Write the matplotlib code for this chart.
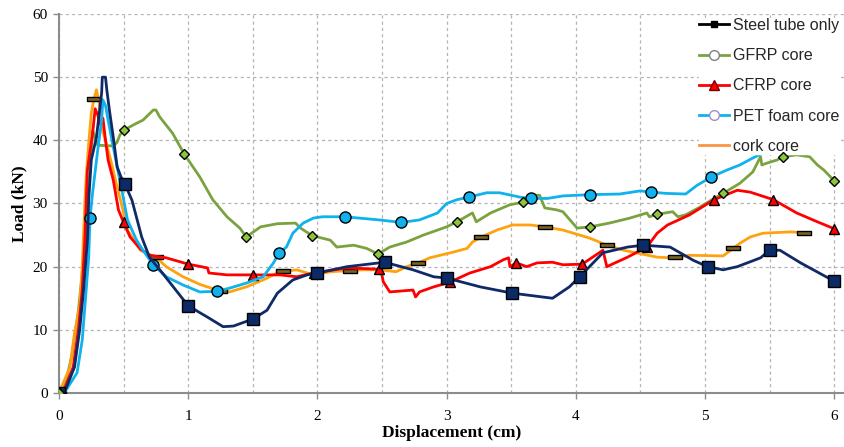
import numpy as np
import matplotlib
matplotlib.use("Agg")
import matplotlib.pyplot as plt
from matplotlib.lines import Line2D

# Load–displacement curves, (displacement in cm, load in kN)
steel_curve = [(0, 0), (0.04, 0), (0.12, 4.1), (0.16, 10), (0.19, 16.3), (0.22, 24.2), (0.23, 30.6),
               (0.25, 36.9), (0.29, 40.5), (0.33, 47.5), (0.335, 50), (0.36, 50), (0.37, 48),
               (0.39, 44.8), (0.42, 40.5), (0.45, 35.8), (0.48, 34.2), (0.51, 33.1), (0.565, 30.5),
               (0.64, 24.7), (0.70, 21.5), (0.80, 19.0), (1.0, 13.8), (1.15, 12.0), (1.27, 10.5),
               (1.35, 10.6), (1.50, 11.7), (1.61, 13.1), (1.69, 15.8), (1.81, 17.9), (1.92, 18.7),
               (2.0, 19.0), (2.23, 20.0), (2.52, 20.7), (2.74, 19.5), (2.90, 18.4), (3.0, 18.2),
               (3.26, 16.8), (3.51, 15.8), (3.82, 15.0), (3.95, 16.8), (4.03, 18.4), (4.21, 22.2),
               (4.40, 23.1), (4.52, 23.4), (4.73, 23.1), (4.91, 21.0), (5.02, 20.0), (5.14, 19.5),
               (5.25, 20.0), (5.43, 21.4), (5.50, 22.6), (5.58, 22.6), (5.74, 20.6), (6.0, 17.7)]
steel_marks = [0, 0.51, 1.0, 1.50, 2.0, 2.52, 3.0, 3.51, 4.03, 4.52, 5.02, 5.50, 6.0]

gfrp_curve = [(0, 0), (0.05, 1.5), (0.10, 6), (0.15, 13), (0.19, 21), (0.22, 30), (0.25, 38),
              (0.26, 41.6), (0.30, 39.2), (0.33, 39.2), (0.42, 39.1), (0.45, 39.7), (0.47, 40.8),
              (0.50, 41.6), (0.60, 42.7), (0.65, 43.2), (0.73, 44.8), (0.75, 44.8), (0.78, 43.7),
              (0.88, 41.1), (0.97, 37.8), (1.09, 34.2), (1.19, 30.6), (1.30, 27.9), (1.40, 26.1),
              (1.45, 24.7), (1.56, 26.3), (1.69, 26.8), (1.83, 26.9), (1.87, 26.1), (1.96, 24.9),
              (2.10, 24.2), (2.15, 23.1), (2.28, 23.4), (2.38, 22.9), (2.47, 22.0), (2.56, 23.1),
              (2.69, 23.9), (2.82, 25.0), (3.0, 26.3), (3.08, 27.1), (3.20, 28.5), (3.23, 27.1),
              (3.34, 28.5), (3.49, 29.8), (3.59, 30.2), (3.70, 31.3), (3.72, 31.3), (3.76, 29.3),
              (3.85, 29.0), (3.90, 28.7), (4.01, 26.1), (4.11, 26.3), (4.26, 26.9), (4.42, 27.7),
              (4.55, 28.5), (4.57, 27.9), (4.63, 28.3), (4.75, 28.7), (4.79, 27.9), (4.85, 28.2),
              (4.95, 29.3), (5.07, 30.8), (5.14, 31.6), (5.27, 33.2), (5.37, 35.0), (5.43, 37.4),
              (5.44, 36.1), (5.48, 36.4), (5.56, 36.9), (5.60, 37.4), (5.71, 37.7), (5.81, 37.4),
              (5.87, 36.1), (5.92, 35.3), (6.0, 33.6)]
gfrp_marks = [0, 0.50, 0.97, 1.45, 1.96, 2.47, 3.08, 3.59, 4.11, 4.63, 5.14, 5.60, 6.0]

cfrp_curve = [(0, 0), (0.03, 0), (0.11, 4.1), (0.15, 10), (0.18, 16.3), (0.20, 24.2), (0.22, 35.3),
              (0.26, 41.1), (0.28, 45.0), (0.30, 44.0), (0.32, 42.5), (0.34, 43.5), (0.36, 40.0),
              (0.38, 36.9), (0.42, 33.7), (0.46, 29.0), (0.50, 27.0), (0.55, 24.7), (0.63, 22.8),
              (0.70, 21.8), (0.83, 21.4), (1.0, 20.4), (1.15, 19.8), (1.16, 19.0), (1.30, 18.7),
              (1.50, 18.7), (1.71, 18.7), (1.84, 18.4), (1.97, 19.0), (2.23, 19.8), (2.48, 19.6),
              (2.49, 19.6), (2.51, 17.6), (2.56, 16.0), (2.74, 16.3), (2.76, 15.2), (2.79, 16.0),
              (2.90, 16.8), (3.02, 17.5), (3.18, 19.0), (3.34, 20.0), (3.44, 21.1), (3.48, 21.4),
              (3.49, 20.0), (3.54, 20.6), (3.62, 20.0), (3.70, 20.6), (3.82, 20.7), (3.90, 20.3),
              (4.05, 20.4), (4.21, 22.6), (4.24, 20.0), (4.40, 21.5), (4.55, 23.1), (4.63, 25.3),
              (4.71, 26.6), (4.88, 28.2), (5.07, 30.6), (5.25, 32.1), (5.35, 31.8), (5.53, 30.6),
              (5.71, 28.5), (5.87, 27.1), (6.0, 26.0)]
cfrp_marks = [0, 0.50, 1.0, 1.50, 1.97, 2.48, 3.03, 3.54, 4.05, 4.55, 5.07, 5.53, 6.0]

pet_curve = [(0, 0), (0.04, 0), (0.14, 3.2), (0.18, 8.4), (0.20, 13.6), (0.23, 21.5), (0.24, 27.7),
             (0.26, 31.7), (0.30, 38.5), (0.33, 43.2), (0.34, 46.4), (0.36, 45.5), (0.38, 43.2),
             (0.41, 40.0), (0.45, 35.8), (0.49, 31.7), (0.53, 27.4), (0.60, 24.2), (0.65, 22.6),
             (0.73, 20.3), (0.83, 18.4), (0.96, 17.1), (1.09, 16.0), (1.22, 16.1), (1.32, 16.6),
             (1.45, 17.4), (1.58, 18.4), (1.66, 20.6), (1.70, 22.1), (1.76, 23.1), (1.81, 25.3),
             (1.89, 26.9), (1.97, 27.7), (2.04, 27.9), (2.21, 27.9), (2.48, 27.4), (2.65, 27.0),
             (2.79, 27.4), (2.93, 28.5), (3.0, 30.0), (3.08, 30.6), (3.17, 31.0), (3.31, 31.7),
             (3.41, 31.7), (3.57, 31.0), (3.65, 30.8), (3.78, 30.8), (3.90, 31.2), (4.11, 31.4),
             (4.34, 31.5), (4.50, 32.0), (4.58, 31.8), (4.70, 31.6), (4.85, 31.5), (4.94, 32.9),
             (5.05, 34.2), (5.17, 35.3), (5.27, 36.1), (5.37, 37.2), (5.45, 38.0), (5.52, 38.6)]
pet_marks = [0, 0.24, 0.73, 1.22, 1.70, 2.21, 2.65, 3.17, 3.65, 4.11, 4.58, 5.05]

cork_curve = [(0, 0), (0.085, 4.1), (0.12, 9.5), (0.16, 13.6), (0.18, 20.0), (0.20, 30.0),
              (0.21, 34.2), (0.23, 39.6), (0.25, 44.3), (0.27, 46.5), (0.29, 48.0), (0.31, 46.0),
              (0.33, 42.0), (0.36, 40.0), (0.40, 36.9), (0.45, 32.6), (0.49, 29.4), (0.53, 25.8),
              (0.63, 22.6), (0.75, 21.5), (0.83, 20.0), (0.96, 18.4), (1.09, 17.2), (1.25, 16.1),
              (1.32, 16.0), (1.45, 16.8), (1.58, 17.9), (1.71, 19.2), (1.84, 19.5), (1.97, 18.7),
              (2.10, 19.2), (2.35, 19.5), (2.48, 19.5), (2.61, 19.2), (2.69, 20.0), (2.78, 20.6),
              (2.87, 21.4), (3.05, 22.3), (3.16, 22.9), (3.20, 23.9), (3.27, 24.7), (3.39, 25.8),
              (3.51, 26.6), (3.65, 26.6), (3.76, 26.3), (3.90, 25.8), (4.03, 25.0), (4.11, 24.5),
              (4.24, 23.4), (4.37, 22.6), (4.63, 21.5), (4.75, 21.4), (4.88, 21.8), (5.14, 21.7),
              (5.18, 22.3), (5.27, 23.7), (5.35, 24.7), (5.45, 25.3), (5.66, 25.5), (5.77, 25.4)]
cork_marks = [0, 0.27, 0.75, 1.25, 1.73, 2.25, 2.78, 3.27, 3.76, 4.24, 4.77, 5.22, 5.77]

labels = ["Steel tube only", "GFRP core", "CFRP core", "PET foam core", "cork core"]

NAVY = "#0f2a66"
GREEN = "#7aa33f"
RED = "#ff0000"
CYAN = "#0fb2ec"
ORANGE = "#ffa20f"

fig = plt.figure(figsize=(8.45, 4.47), dpi=100)
W, H = 845, 447
x0, x1, ytop, ybot = 59, 845, 14, 393
ax = fig.add_axes([x0 / W, (H - ybot) / H, (x1 - x0) / W, (ybot - ytop) / H])
px_per_cm = 129.2
ax.set_xlim(0, (x1 - x0) / px_per_cm)
ax.set_ylim(0, 60)

# grid: dashed, every 0.5 cm and every 10 kN
ax.set_xticks(np.arange(0, 7, 1))
ax.set_xticks(np.arange(0, 6.01, 0.5), minor=True)
ax.set_yticks(np.arange(0, 61, 10))
ax.grid(True, which="both", axis="x", linestyle=(0, (2.5, 2.5)), color="#b4b4b4", linewidth=0.9)
ax.grid(True, which="major", axis="y", linestyle=(0, (2.5, 2.5)), color="#b4b4b4", linewidth=0.9)
ax.set_axisbelow(True)

for s in ["top", "right"]:
    ax.spines[s].set_visible(False)
for s in ["left", "bottom"]:
    ax.spines[s].set_color("#8c8c8c")
    ax.spines[s].set_linewidth(1.5)
ax.tick_params(axis="both", which="major", direction="out", length=4, width=1, color="#8c8c8c",
               labelsize=11)
ax.tick_params(axis="x", which="minor", length=0)
ax.tick_params(axis="x", pad=8)
ax.tick_params(axis="y", pad=4)
for lab in ax.get_xticklabels() + ax.get_yticklabels():
    lab.set_fontfamily("Liberation Serif")

ax.set_xlabel("Displacement (cm)", fontfamily="Liberation Serif", fontweight="bold",
              fontsize=12.5, labelpad=2)
ax.set_ylabel("Load (kN)", fontfamily="Liberation Serif", fontweight="bold",
              fontsize=12.5, labelpad=4)

bar_marker = [(-1, -0.3), (1, -0.3), (1, 0.3), (-1, 0.3), (-1, -0.3)]

# (curve, marker positions, line colour, marker style, line zorder, marker zorder)
series = [
    (steel_curve, steel_marks, NAVY, dict(marker="s", ms=8, mfc="#0c2a66", mec="black"), 6, 6.1),
    (gfrp_curve, gfrp_marks, GREEN, dict(marker="D", ms=5.5, mfc="#8cc63f", mec="black"), 3, 21),
    (cfrp_curve, cfrp_marks, RED, dict(marker="^", ms=7.5, mfc="#ff0000", mec="black"), 4, 4.1),
    (pet_curve, pet_marks, CYAN, dict(marker="o", ms=8, mfc="#0fb2ec", mec="black"), 5, 5.1),
    (cork_curve, cork_marks, ORANGE, dict(marker=bar_marker, ms=10, mfc="#7a6422", mec="black"), 3.5, 3.6),
]

for curve, marks, color, mstyle, zl, zm in series:
    d, load = np.array(curve, dtype=float).T
    ax.plot(d, load, color=color, lw=2.0, zorder=zl, solid_joinstyle="round")
    md = np.array(marks, dtype=float)
    ax.plot(md, np.interp(md, d, load), ls="none", mew=1.0, zorder=zm, **mstyle)

handles = [
    Line2D([], [], color="black", lw=2.0, marker="s", ms=4, mfc="black", mec="black"),
    Line2D([], [], color="#7aa33f", lw=2.0, marker="o", ms=7, mfc="white", mec="#808080"),
    Line2D([], [], color=RED, lw=2.0, marker="^", ms=7, mfc=RED, mec="#7a0000"),
    Line2D([], [], color=CYAN, lw=2.0, marker="o", ms=7, mfc="white", mec="#a58cc8"),
    Line2D([], [], color="#f79646", lw=2.0),
]
leg = ax.legend(handles, labels, loc="upper left",
                bbox_to_anchor=((699 - x0) / (x1 - x0), 1.0 - 4 / (ybot - ytop)),
                frameon=True, facecolor="white", edgecolor="white", framealpha=1, fancybox=False,
                borderpad=0.0, borderaxespad=0, handlelength=1.9, handletextpad=0.25,
                labelspacing=0.95, prop={"family": "Liberation Sans", "size": 11.5})
leg.set_zorder(20)
for t in leg.get_texts():
    t.set_color("#262626")

fig.savefig("out.png", dpi=100)
